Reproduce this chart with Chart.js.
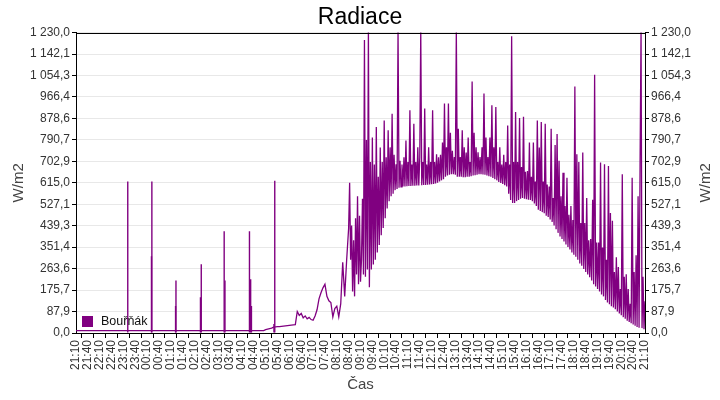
<!DOCTYPE html>
<html>
<head>
<meta charset="utf-8">
<title>Radiace</title>
<script src="https://cdn.jsdelivr.net/npm/chart.js@4/dist/chart.umd.min.js"></script>
<style>
  html, body { margin: 0; padding: 0; background: #fff; }
  #wrap { width: 720px; height: 400px; }
</style>
</head>
<body>
<div id="wrap"><canvas id="chart" width="720" height="400"></canvas></div>
<script>
// ---------------------------------------------------------------------------
// Radiace — one day of solar radiation (W/m2), station "Bouřňák"
// ---------------------------------------------------------------------------

const SERIES_LABEL = "Bouřňák";
const SERIES_COLOUR = "#800080";
const START_TIME = "21:10";   // first sample of the night part
const NIGHT_STEP = 5;         // minutes between night samples
const DAY_START = "08:40";    // first sample of the day part
const DAY_STEP = 2.5;         // minutes between day samples
const Y_MAX = 1230;

// night + early morning, every 5 minutes, 21:10 -> 08:35
const radiaceNight = [
  10, 10, 10, 10, 10, 10, 10, 10, 10, 10, 10, 10,            // 21:10
  10, 10, 10, 10, 10, 10, 10, 10, 10, 10, 10, 10,            // 22:10
  10, 10, 10, 10, 10, 10, 10, 10, 10, 10, 10, 10,            // 23:10
  10, 10, 10, 10, 10, 10, 10, 10, 10, 10, 10, 10,            // 00:10
  10, 10, 10, 10, 10, 10, 10, 10, 10, 10, 10, 10,            // 01:10
  10, 10, 10, 10, 10, 10, 10, 10, 10, 10, 10, 10,            // 02:10
  10, 10, 10, 10, 10, 10, 10, 10, 10, 10, 10, 10,            // 03:10
  10, 10, 10, 10, 10, 10, 10, 10, 10, 10, 10, 10,            // 04:10
  14, 16, 18, 20, 24, 25, 26, 26, 27, 28, 29, 30,            // 05:10
  31, 32, 33, 34, 88, 72, 80, 62, 70, 58, 64, 55,            // 06:10
  52, 70, 95, 140, 165, 185, 200, 150, 132, 125, 66, 100,    // 07:10
  110, 66, 120, 290, 150, 300                                // 08:10
];

// daytime, every 2.5 minutes, 08:40 -> 21:10
const radiaceDay = [
  430, 615, 300, 440, 170, 380, 150, 470, 240, 560, 200, 480,    // 08:40
  210, 300, 550, 240, 1200, 230, 790, 260, 1240, 187, 700, 260,  // 09:10
  800, 280, 690, 300, 843, 330, 640, 360, 760, 400, 700, 430,    // 09:40
  870, 470, 720, 510, 830, 540, 760, 560, 898, 570, 730, 585,    // 10:10
  691, 590, 1240, 595, 705, 598, 690, 600, 720, 600, 788, 601,   // 10:40
  700, 602, 912, 602, 690, 603, 857, 603, 700, 604, 760, 604,    // 11:10
  720, 1240, 605, 700, 606, 919, 606, 690, 607, 760, 608, 700,   // 11:40
  609, 912, 610, 700, 612, 732, 615, 720, 620, 730, 625, 780,    // 12:10
  630, 940, 640, 760, 645, 940, 648, 820, 650, 746, 650, 720,    // 12:40
  648, 1240, 640, 836, 640, 720, 640, 830, 638, 760, 638, 739,   // 13:10
  640, 800, 640, 700, 642, 1030, 645, 820, 646, 760, 648, 740,   // 13:40
  650, 720, 650, 760, 649, 981, 648, 800, 645, 720, 642, 800,    // 14:10
  640, 933, 635, 760, 630, 925, 625, 700, 618, 760, 614, 690,    // 14:40
  610, 730, 605, 700, 600, 850, 570, 690, 545, 1215, 532, 700,   // 15:10
  532, 905, 540, 700, 545, 880, 550, 680, 553, 885, 550, 660,    // 15:40
  548, 663, 546, 780, 545, 640, 540, 780, 530, 620, 520, 870,    // 16:10
  505, 760, 500, 864, 495, 620, 490, 857, 480, 608, 475, 600,    // 16:40
  465, 836, 455, 553, 440, 770, 425, 815, 410, 705, 395, 560,    // 17:10
  385, 656, 375, 520, 362, 636, 352, 484, 342, 520, 330, 463,    // 17:40
  320, 1009, 312, 732, 300, 700, 285, 450, 275, 739, 262, 450,   // 18:10
  250, 553, 240, 380, 228, 385, 215, 546, 200, 1057, 190, 370,   // 18:40
  180, 370, 170, 698, 158, 350, 150, 691, 135, 300, 125, 684,    // 19:10
  118, 491, 110, 460, 104, 250, 97, 310, 88, 270, 80, 180,       // 19:40
  73, 650, 65, 230, 58, 240, 50, 180, 45, 120, 40, 636,          // 20:10
  35, 250, 30, 318, 25, 560, 22, 685, 1240, 20, 230, 15,         // 20:40
  130                                                            // 21:10
];

// short single-sample peaks during the night
const spikeTimes = [
  "23:21", "00:21", "00:22", "01:22", "01:23", "02:25", "02:27",
  "03:25", "03:27", "04:29", "04:32", "04:34", "05:31", "05:33"
];
const spikeValues = [
  620, 314, 620, 111, 215, 146, 281,
  417, 215, 417, 220, 111, 37, 623
];

const xTickLabels = [
  "21:10", "21:40", "22:10", "22:40", "23:10", "23:40", "00:10", "00:40",
  "01:10", "01:40", "02:10", "02:40", "03:10", "03:40", "04:10", "04:40",
  "05:10", "05:40", "06:10", "06:40", "07:10", "07:40", "08:10", "08:40",
  "09:10", "09:40", "10:10", "10:40", "11:10", "11:40", "12:10", "12:40",
  "13:10", "13:40", "14:10", "14:40", "15:10", "15:40", "16:10", "16:40",
  "17:10", "17:40", "18:10", "18:40", "19:10", "19:40", "20:10", "20:40",
  "21:10"
];

const yTickLabels = [
  "0,0", "87,9", "175,7", "263,6", "351,4", "439,3", "527,1", "615,0",
  "702,9", "790,7", "878,6", "966,4", "1 054,3", "1 142,1", "1 230,0"
];

// ---- helpers ----
function minutesFromStart(hhmm) {
  const [h, m] = hhmm.split(":").map(Number);
  const [h0, m0] = START_TIME.split(":").map(Number);
  let d = h * 60 + m - (h0 * 60 + m0);
  if (d < 0) d += 1440;
  return d;
}

const FONT = "'Liberation Sans', Arial, sans-serif";
Chart.defaults.font.family = FONT;

const dayOffset = minutesFromStart(DAY_START);
const linePoints = [
  ...radiaceNight.map((v, i) => ({ x: i * NIGHT_STEP, y: v })),
  ...radiaceDay.map((v, i) => ({ x: dayOffset + i * DAY_STEP, y: v })),
];
const spikePoints = spikeTimes.map((t, i) => ({ x: minutesFromStart(t), y: spikeValues[i] }));

const yTicksFromLabels = (scale) => {
  scale.ticks = yTickLabels.map((_, i) => ({ value: (i * Y_MAX) / (yTickLabels.length - 1) }));
};

// ---- plugins ----
const framePlugin = {
  id: "frame",
  afterDraw(chart) {
    const a = chart.chartArea;
    const ctx = chart.ctx;
    ctx.save();
    ctx.strokeStyle = "#000";
    ctx.lineWidth = 1;
    const y = Math.round(a.top) + 0.5;
    ctx.beginPath();
    ctx.moveTo(Math.round(a.left), y);
    ctx.lineTo(Math.round(a.right) + 1, y);
    ctx.stroke();
    ctx.restore();
  },
};

const axisTitlePlugin = {
  id: "axisTitles",
  afterDraw(chart) {
    const a = chart.chartArea;
    const ctx = chart.ctx;
    const midY = (a.top + a.bottom) / 2;
    ctx.save();
    ctx.fillStyle = "#444";
    ctx.font = "15px " + FONT;
    ctx.textAlign = "center";
    ctx.textBaseline = "middle";
    for (const x of [18.5, 706]) {
      ctx.save();
      ctx.translate(x, midY);
      ctx.rotate(-Math.PI / 2);
      ctx.fillText("W/m2", 0, 0);
      ctx.restore();
    }
    ctx.restore();
  },
};

const insideLegendPlugin = {
  id: "insideLegend",
  afterDraw(chart) {
    const a = chart.chartArea;
    const ctx = chart.ctx;
    ctx.save();
    ctx.fillStyle = SERIES_COLOUR;
    ctx.fillRect(a.left + 6, a.bottom - 17, 11, 11);
    ctx.fillStyle = "#111";
    ctx.font = "12.5px " + FONT;
    ctx.textAlign = "left";
    ctx.textBaseline = "middle";
    ctx.fillText(SERIES_LABEL, a.left + 25, a.bottom - 11);
    ctx.restore();
  },
};

// ---- chart ----
new Chart(document.getElementById("chart"), {
  type: "line",
  data: {
    datasets: [
      {
        label: SERIES_LABEL,
        data: linePoints,
        borderColor: SERIES_COLOUR,
        backgroundColor: SERIES_COLOUR,
        borderWidth: 1.3,
        pointRadius: 0,
        tension: 0,
        fill: false,
      },
      {
        type: "bar",
        label: SERIES_LABEL + " (peaks)",
        data: spikePoints,
        backgroundColor: SERIES_COLOUR,
        barThickness: 1.4,
        grouped: false,
        inflateAmount: 0,
        borderWidth: 0,
      },
    ],
  },
  options: {
    responsive: false,
    animation: false,
    devicePixelRatio: 1,
    layout: { padding: 0 },
    plugins: {
      legend: { display: false },
      tooltip: { enabled: false },
      title: {
        display: true,
        text: "Radiace",
        color: "#000",
        font: { size: 23, weight: "normal", family: FONT },
        padding: { top: 4, bottom: 1 },
      },
    },
    scales: {
      x: {
        type: "linear",
        min: 0,
        max: 1440,
        offset: false,
        afterBuildTicks: (s) => {
          s.ticks = xTickLabels.map((_, i) => ({ value: i * 30 }));
        },
        afterFit: (s) => { s.height = 67; },
        ticks: {
          autoSkip: false,
          minRotation: 90,
          maxRotation: 90,
          padding: 2,
          color: "#333",
          font: { size: 12 },
          callback: (v, i) => xTickLabels[i],
        },
        grid: { drawOnChartArea: false, tickLength: 5, tickColor: "#000" },
        border: { color: "#000" },
        title: {
          display: true,
          text: "Čas",
          color: "#444",
          font: { size: 15 },
          padding: { top: 0, bottom: 6 },
        },
      },
      y: {
        position: "left",
        min: 0,
        max: Y_MAX,
        afterBuildTicks: yTicksFromLabels,
        afterFit: (s) => { s.width = 76; },
        ticks: {
          padding: 2,
          color: "#333",
          font: { size: 12 },
          callback: (v, i) => yTickLabels[i],
        },
        grid: { color: "#e8e8e8", tickColor: "#000", tickLength: 4 },
        border: { color: "#000" },
      },
      y2: {
        position: "right",
        min: 0,
        max: Y_MAX,
        afterBuildTicks: yTicksFromLabels,
        afterFit: (s) => { s.width = 75; },
        ticks: {
          padding: 2,
          color: "#333",
          font: { size: 12 },
          callback: (v, i) => yTickLabels[i],
        },
        grid: { drawOnChartArea: false, tickColor: "#000", tickLength: 4 },
        border: { color: "#000" },
      },
    },
  },
  plugins: [framePlugin, axisTitlePlugin, insideLegendPlugin],
});
</script>
</body>
</html>
